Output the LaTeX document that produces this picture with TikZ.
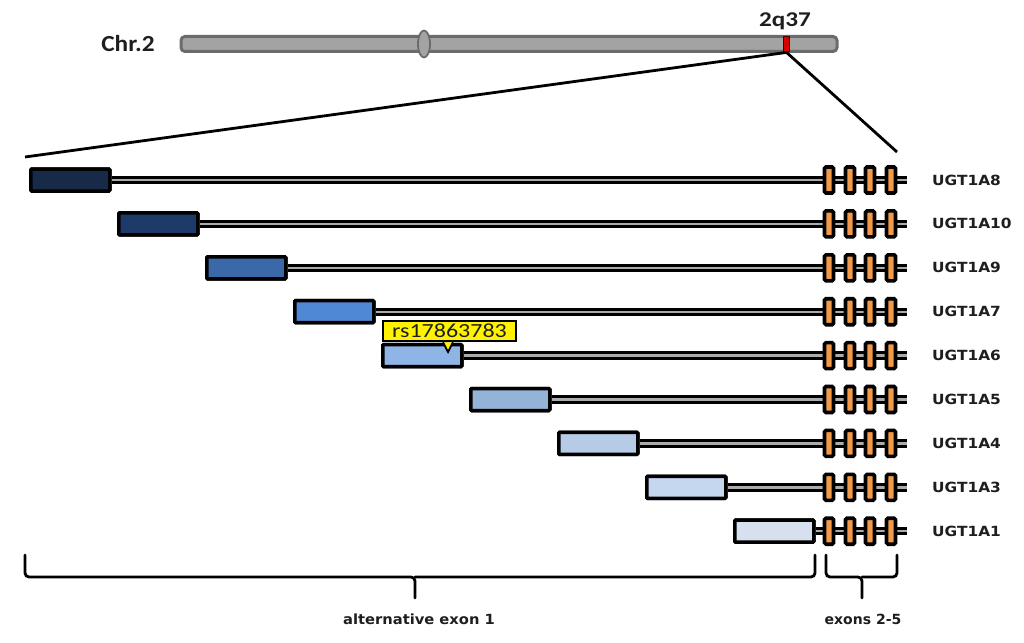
\documentclass[tikz,border=0pt]{standalone}
\usepackage{fontspec}
\usetikzlibrary{shapes.geometric}
\newfontfamily\calfont{Carlito}
\newfontfamily\dvsfont{DejaVu Sans}
\definecolor{c1}{HTML}{172A48}
\definecolor{c2}{HTML}{1E3A68}
\definecolor{c3}{HTML}{3A68A8}
\definecolor{c4}{HTML}{4F88D4}
\definecolor{c5}{HTML}{8FB4E6}
\definecolor{c6}{HTML}{93B3D9}
\definecolor{c7}{HTML}{B6CBE6}
\definecolor{c8}{HTML}{C5D6EF}
\definecolor{c9}{HTML}{D6E0EF}
\definecolor{chrfill}{HTML}{A3A3A3}
\definecolor{chrline}{HTML}{6B6B6B}
\definecolor{exorange}{HTML}{F29A48}
\definecolor{txt}{HTML}{1E1E1E}
\begin{document}
\begin{tikzpicture}[x=1pt,y=-1pt,
  exbox/.style={draw=black,line width=3.5pt,rounded corners=1pt,minimum width=79pt,minimum height=22pt,inner sep=0pt,anchor=west},
  exon/.style={draw=black,fill=exorange,line width=3.6pt,rounded corners=1.5pt,minimum width=9pt,minimum height=26pt,inner sep=0pt},
  intron/.style={draw=black,line width=3pt,double=gray!65,double distance=2.4pt},
  gene/.style={anchor=west,text=txt,font=\dvsfont\bfseries\fontsize{14}{15}\selectfont,inner sep=0pt},
  brace/.style={line width=2.8pt,rounded corners=4pt,line cap=round},
  blabel/.style={text=txt,font=\dvsfont\bfseries\fontsize{14}{15}\selectfont,inner sep=0pt},
  zoomline/.style={line width=2.8pt}]
\useasboundingbox (0,0) rectangle (1024,642);
% chromosome
\node[draw=chrline,fill=chrfill,line width=3pt,rounded corners=4pt,minimum width=656pt,minimum height=15pt,inner sep=0pt] (chr) at (509,44) {};
\node[ellipse,draw=chrline,fill=chrfill,line width=1.8pt,minimum width=12pt,minimum height=27pt,inner sep=0pt] (cen) at (424,44) {};
\node[draw=black!70!red,fill=red!85!black,line width=1.8pt,minimum width=6pt,minimum height=15pt,inner sep=0pt] (band) at (786.5,44) {};
\node[text=txt,font=\calfont\bfseries\fontsize{23}{24}\selectfont,inner sep=0pt] (chrlab) at (128,44) {\scalebox{1.1}[1]{Chr.2}};
\node[text=txt,font=\calfont\bfseries\fontsize{21}{24}\selectfont,inner sep=0pt] (loc) at (785,21) {\scalebox{1.2}[1]{2q37}};
\coordinate (zl) at (25,157);
\coordinate (zr) at (897,152);
\draw[zoomline] (band.south) -- (zl);
\draw[zoomline] (band.south) -- (zr);
% gene rows
\foreach \i/\name/\col in {0/UGT1A8/c1,1/UGT1A10/c2,2/UGT1A9/c3,3/UGT1A7/c4,4/UGT1A6/c5,5/UGT1A5/c6,6/UGT1A4/c7,7/UGT1A3/c8,8/UGT1A1/c9}{
  \pgfmathsetmacro{\yy}{180+43.9*\i}
  \pgfmathsetmacro{\xl}{29+88*\i}
  \node[exbox,fill=\col] (b\i) at (\xl,\yy) {};
  \coordinate (t\i) at (907,\yy);
  \draw[intron] (b\i.east) -- (t\i);
  \node[exbox,fill=\col] at (b\i.west) {};
  \foreach \j/\ex in {1/829,2/850,3/870,4/891}{
    \node[exon] (x\i-\j) at (\ex,\yy) {};
  }
  \node[gene] (g\i) at (932,\yy) {\scalebox{1.1}[1]{\name}};
}
% SNP label
\node[draw=black,fill=yellow,line width=2.5pt,minimum width=133pt,minimum height=20pt,inner sep=0pt,text=txt,font=\calfont\fontsize{20}{22}\selectfont] (rs) at (449.5,331) {\scalebox{1.2}[1]{rs17863783}};
\draw[fill=yellow,line width=1.8pt] ([xshift=-5pt]rs.south -| 448,0) -- (448,352) -- ([xshift=5pt]rs.south -| 448,0);
% braces
\draw[brace] (25,555) |- (415,577) -- (415,598);
\draw[brace] (415,577) -| (815,555);
\draw[brace] (826,555) |- (862,577) -- (862,598);
\draw[brace] (862,577) -| (897,555);
\node[blabel] (alt) at (419,619) {\scalebox{1.05}[1]{alternative exon 1}};
\node[blabel] (ex25) at (863,619) {exons 2-5};
\end{tikzpicture}
\end{document}
